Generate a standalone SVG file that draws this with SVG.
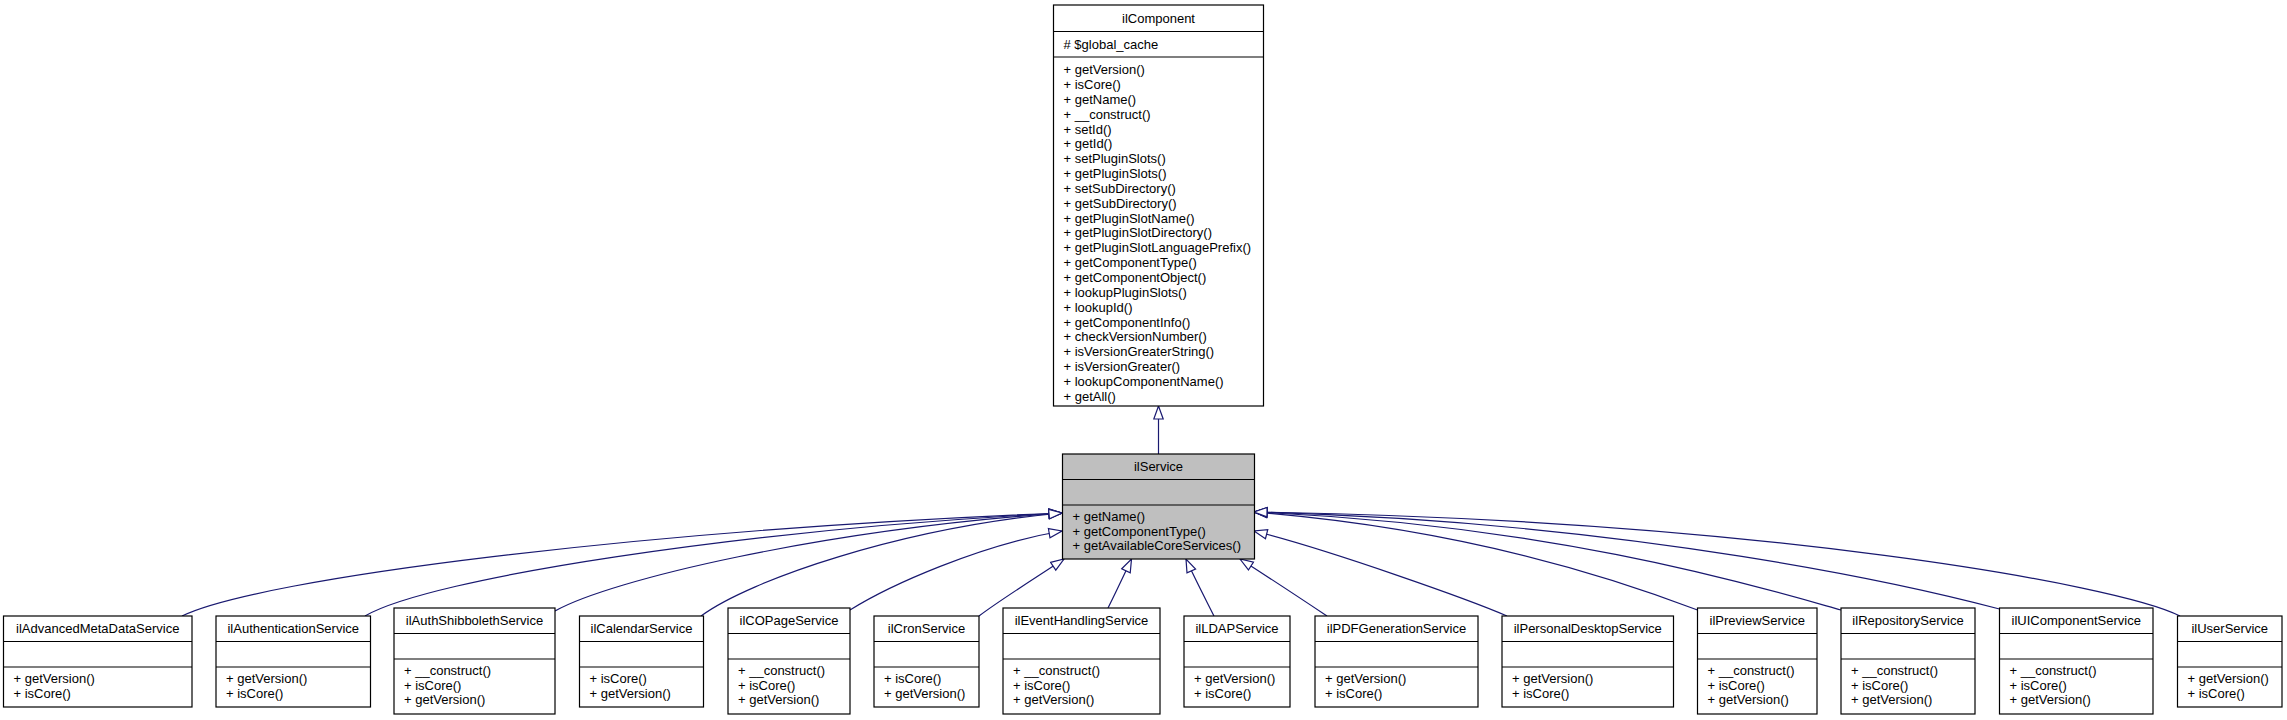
<svg xmlns="http://www.w3.org/2000/svg" width="2287" height="720" viewBox="0 0 2287 720">
<style>
.bg{fill:#fff}
.box{fill:#fff;stroke:#000;stroke-width:1.2}
.hl{fill:#bfbfbf;stroke:#000;stroke-width:1.2}
.sep{fill:none;stroke:#000;stroke-width:1.2}
text{font-family:"Liberation Sans",Arial,Helvetica,sans-serif;font-size:13px;fill:#000}
.c{text-anchor:middle}
.edge{fill:none;stroke:#191970;stroke-width:1.2}
</style>
<defs>
<marker id="tri" markerUnits="userSpaceOnUse" viewBox="0 0 16 12" markerWidth="16" markerHeight="12" refX="14" refY="6" orient="auto">
<path d="M1,1.3 L14,6 L1,10.7 Z" fill="#fff" stroke="#191970" stroke-width="1.2"/>
</marker>
</defs>
<rect class="bg" x="0" y="0" width="2287" height="720"/>

<g id="edges">
<path class="edge" marker-end="url(#tri)" d="M1158.5,454 L1158.5,406"/>
<path class="edge" marker-end="url(#tri)" d="M182,616 C260,578 640,530 1062,513"/>
<path class="edge" marker-end="url(#tri)" d="M365,616 C430,578 740,530 1062,513"/>
<path class="edge" marker-end="url(#tri)" d="M555,611 C610,580 820,530 1062,513"/>
<path class="edge" marker-end="url(#tri)" d="M701,616 C750,580 900,528 1062,513"/>
<path class="edge" marker-end="url(#tri)" d="M850,610 C890,585 980,545 1062,531"/>
<path class="edge" marker-end="url(#tri)" d="M979,616 C1000,600 1040,575 1064,559"/>
<path class="edge" marker-end="url(#tri)" d="M1108,608 C1115,594 1124,575 1131.5,559"/>
<path class="edge" marker-end="url(#tri)" d="M1214,616 C1206,600 1194,577 1186,559"/>
<path class="edge" marker-end="url(#tri)" d="M1327,616 C1300,598 1265,575 1240,559"/>
<path class="edge" marker-end="url(#tri)" d="M1507,616 C1470,600 1330,550 1254,531"/>
<path class="edge" marker-end="url(#tri)" d="M1697.5,610 C1640,588 1480,530 1254,512"/>
<path class="edge" marker-end="url(#tri)" d="M1841,610 C1770,590 1560,525 1254,512"/>
<path class="edge" marker-end="url(#tri)" d="M1999.5,609 C1920,588 1640,522 1254,512"/>
<path class="edge" marker-end="url(#tri)" d="M2180,616 C2120,585 1760,520 1254,512"/>
</g>

<g id="node-ilComponent">
<rect class="box" x="1053.5" y="5" width="210" height="401"/>
<path class="sep" d="M1053.5,31.5 H1263.5 M1053.5,57 H1263.5"/>
<text class="c" x="1158.5" y="22.9">ilComponent</text>
<text x="1063.5" y="48.8"># $global_cache</text>
<text x="1063.5" y="74.1"><tspan x="1063.5">+ getVersion()</tspan><tspan x="1063.5" dy="14.85">+ isCore()</tspan><tspan x="1063.5" dy="14.85">+ getName()</tspan><tspan x="1063.5" dy="14.85">+ __construct()</tspan><tspan x="1063.5" dy="14.85">+ setId()</tspan><tspan x="1063.5" dy="14.85">+ getId()</tspan><tspan x="1063.5" dy="14.85">+ setPluginSlots()</tspan><tspan x="1063.5" dy="14.85">+ getPluginSlots()</tspan><tspan x="1063.5" dy="14.85">+ setSubDirectory()</tspan><tspan x="1063.5" dy="14.85">+ getSubDirectory()</tspan><tspan x="1063.5" dy="14.85">+ getPluginSlotName()</tspan><tspan x="1063.5" dy="14.85">+ getPluginSlotDirectory()</tspan><tspan x="1063.5" dy="14.85">+ getPluginSlotLanguagePrefix()</tspan><tspan x="1063.5" dy="14.85">+ getComponentType()</tspan><tspan x="1063.5" dy="14.85">+ getComponentObject()</tspan><tspan x="1063.5" dy="14.85">+ lookupPluginSlots()</tspan><tspan x="1063.5" dy="14.85">+ lookupId()</tspan><tspan x="1063.5" dy="14.85">+ getComponentInfo()</tspan><tspan x="1063.5" dy="14.85">+ checkVersionNumber()</tspan><tspan x="1063.5" dy="14.85">+ isVersionGreaterString()</tspan><tspan x="1063.5" dy="14.85">+ isVersionGreater()</tspan><tspan x="1063.5" dy="14.85">+ lookupComponentName()</tspan><tspan x="1063.5" dy="14.85">+ getAll()</tspan></text>
</g>

<g id="node-ilService">
<rect class="hl" x="1062.5" y="454" width="192" height="105"/>
<path class="sep" d="M1062.5,479.5 H1254.5 M1062.5,505 H1254.5"/>
<text class="c" x="1158.5" y="471.3">ilService</text>
<text x="1072.5" y="521"><tspan x="1072.5">+ getName()</tspan><tspan x="1072.5" dy="14.7">+ getComponentType()</tspan><tspan x="1072.5" dy="14.7">+ getAvailableCoreServices()</tspan></text>
</g>

<g id="node-ilAdvancedMetaDataService">
<rect class="box" x="3.5" y="616" width="188.5" height="91"/>
<path class="sep" d="M3.5,641.5 H192 M3.5,667 H192"/>
<text class="c" x="97.75" y="633.3">ilAdvancedMetaDataService</text>
<text x="13.5" y="683"><tspan x="13.5">+ getVersion()</tspan><tspan x="13.5" dy="14.7">+ isCore()</tspan></text>
</g>

<g id="node-ilAuthenticationService">
<rect class="box" x="216" y="616" width="154.5" height="91"/>
<path class="sep" d="M216,641.5 H370.5 M216,667 H370.5"/>
<text class="c" x="293.25" y="633.3">ilAuthenticationService</text>
<text x="226" y="683"><tspan x="226">+ getVersion()</tspan><tspan x="226" dy="14.7">+ isCore()</tspan></text>
</g>

<g id="node-ilAuthShibbolethService">
<rect class="box" x="394" y="608" width="161" height="106"/>
<path class="sep" d="M394,633.5 H555 M394,659 H555"/>
<text class="c" x="474.5" y="625.3">ilAuthShibbolethService</text>
<text x="404" y="675"><tspan x="404">+ __construct()</tspan><tspan x="404" dy="14.7">+ isCore()</tspan><tspan x="404" dy="14.7">+ getVersion()</tspan></text>
</g>

<g id="node-ilCalendarService">
<rect class="box" x="579.5" y="616" width="124" height="91"/>
<path class="sep" d="M579.5,641.5 H703.5 M579.5,667 H703.5"/>
<text class="c" x="641.5" y="633.3">ilCalendarService</text>
<text x="589.5" y="683"><tspan x="589.5">+ isCore()</tspan><tspan x="589.5" dy="14.7">+ getVersion()</tspan></text>
</g>

<g id="node-ilCOPageService">
<rect class="box" x="728" y="608" width="122" height="106"/>
<path class="sep" d="M728,633.5 H850 M728,659 H850"/>
<text class="c" x="789" y="625.3">ilCOPageService</text>
<text x="738" y="675"><tspan x="738">+ __construct()</tspan><tspan x="738" dy="14.7">+ isCore()</tspan><tspan x="738" dy="14.7">+ getVersion()</tspan></text>
</g>

<g id="node-ilCronService">
<rect class="box" x="874" y="616" width="105" height="91"/>
<path class="sep" d="M874,641.5 H979 M874,667 H979"/>
<text class="c" x="926.5" y="633.3">ilCronService</text>
<text x="884" y="683"><tspan x="884">+ isCore()</tspan><tspan x="884" dy="14.7">+ getVersion()</tspan></text>
</g>

<g id="node-ilEventHandlingService">
<rect class="box" x="1003" y="608" width="157" height="106"/>
<path class="sep" d="M1003,633.5 H1160 M1003,659 H1160"/>
<text class="c" x="1081.5" y="625.3">ilEventHandlingService</text>
<text x="1013" y="675"><tspan x="1013">+ __construct()</tspan><tspan x="1013" dy="14.7">+ isCore()</tspan><tspan x="1013" dy="14.7">+ getVersion()</tspan></text>
</g>

<g id="node-ilLDAPService">
<rect class="box" x="1184" y="616" width="106" height="91"/>
<path class="sep" d="M1184,641.5 H1290 M1184,667 H1290"/>
<text class="c" x="1237" y="633.3">ilLDAPService</text>
<text x="1194" y="683"><tspan x="1194">+ getVersion()</tspan><tspan x="1194" dy="14.7">+ isCore()</tspan></text>
</g>

<g id="node-ilPDFGenerationService">
<rect class="box" x="1315" y="616" width="163" height="91"/>
<path class="sep" d="M1315,641.5 H1478 M1315,667 H1478"/>
<text class="c" x="1396.5" y="633.3">ilPDFGenerationService</text>
<text x="1325" y="683"><tspan x="1325">+ getVersion()</tspan><tspan x="1325" dy="14.7">+ isCore()</tspan></text>
</g>

<g id="node-ilPersonalDesktopService">
<rect class="box" x="1502" y="616" width="171.5" height="91"/>
<path class="sep" d="M1502,641.5 H1673.5 M1502,667 H1673.5"/>
<text class="c" x="1587.75" y="633.3">ilPersonalDesktopService</text>
<text x="1512" y="683"><tspan x="1512">+ getVersion()</tspan><tspan x="1512" dy="14.7">+ isCore()</tspan></text>
</g>

<g id="node-ilPreviewService">
<rect class="box" x="1697.5" y="608" width="119.5" height="106"/>
<path class="sep" d="M1697.5,633.5 H1817 M1697.5,659 H1817"/>
<text class="c" x="1757.25" y="625.3">ilPreviewService</text>
<text x="1707.5" y="675"><tspan x="1707.5">+ __construct()</tspan><tspan x="1707.5" dy="14.7">+ isCore()</tspan><tspan x="1707.5" dy="14.7">+ getVersion()</tspan></text>
</g>

<g id="node-ilRepositoryService">
<rect class="box" x="1841" y="608" width="134" height="106"/>
<path class="sep" d="M1841,633.5 H1975 M1841,659 H1975"/>
<text class="c" x="1908" y="625.3">ilRepositoryService</text>
<text x="1851" y="675"><tspan x="1851">+ __construct()</tspan><tspan x="1851" dy="14.7">+ isCore()</tspan><tspan x="1851" dy="14.7">+ getVersion()</tspan></text>
</g>

<g id="node-ilUIComponentService">
<rect class="box" x="1999.5" y="608" width="153.5" height="106"/>
<path class="sep" d="M1999.5,633.5 H2153 M1999.5,659 H2153"/>
<text class="c" x="2076.25" y="625.3">ilUIComponentService</text>
<text x="2009.5" y="675"><tspan x="2009.5">+ __construct()</tspan><tspan x="2009.5" dy="14.7">+ isCore()</tspan><tspan x="2009.5" dy="14.7">+ getVersion()</tspan></text>
</g>

<g id="node-ilUserService">
<rect class="box" x="2177.5" y="616" width="104.5" height="91"/>
<path class="sep" d="M2177.5,641.5 H2282 M2177.5,667 H2282"/>
<text class="c" x="2229.75" y="633.3">ilUserService</text>
<text x="2187.5" y="683"><tspan x="2187.5">+ getVersion()</tspan><tspan x="2187.5" dy="14.7">+ isCore()</tspan></text>
</g>
</svg>
